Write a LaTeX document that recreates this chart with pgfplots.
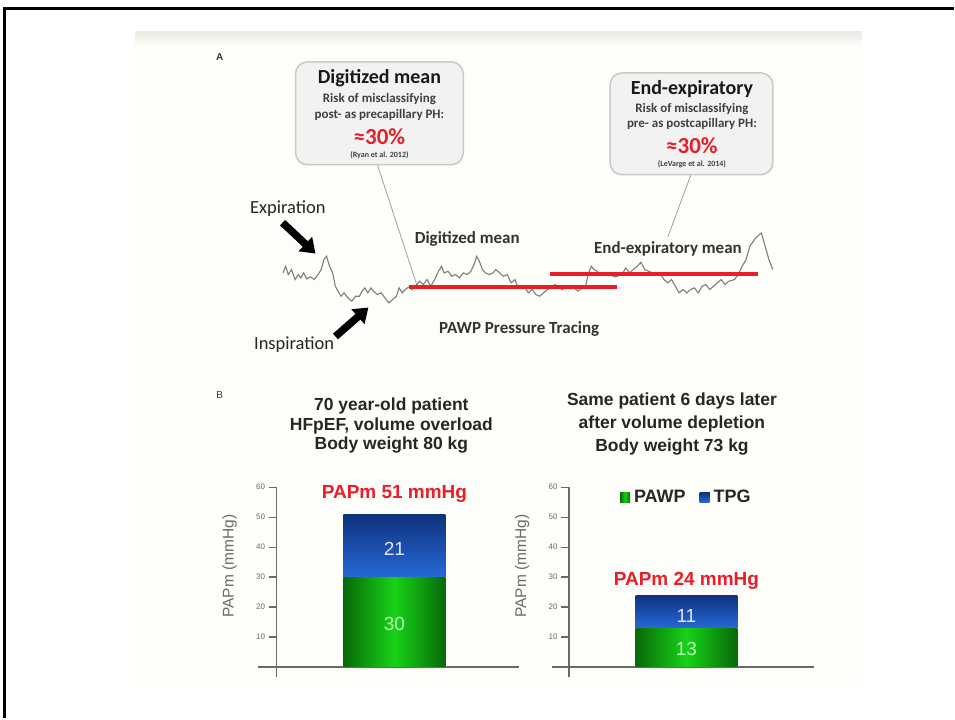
\documentclass[border=0pt]{standalone}
\usepackage{pgfplots}
\pgfplotsset{compat=1.18}
\usepackage{pgfplotstable}
\usepackage{fontspec}
\setmainfont{Carlito}
\newfontfamily\arial{Liberation Sans}
\usetikzlibrary{arrows.meta}
\definecolor{redt}{RGB}{232,30,40}
\definecolor{axgray}{RGB}{105,105,105}
\definecolor{tracec}{RGB}{125,125,125}
\definecolor{boxfill}{RGB}{242,242,242}
\definecolor{boxdraw}{RGB}{200,200,200}
\definecolor{gdark}{RGB}{8,105,8}
\definecolor{gmid}{RGB}{24,210,24}
\definecolor{bdark}{RGB}{14,50,125}
\definecolor{bmid}{RGB}{38,105,215}
\definecolor{panelbg}{RGB}{253,253,250}
\definecolor{bandc}{RGB}{236,236,226}
\newcommand{\fs}[1]{\fontsize{#1}{#1}\selectfont}

% PAWP pressure tracing (horizontal position, depth from top)
\pgfplotstableread{
x y
218 700
225 680
232 705
240 690
250 720
258 705
265 715
272 700
280 718
290 712
300 720
310 705
318 690
325 660
332 650
340 680
348 700
355 740
362 755
370 770
378 760
388 775
398 785
408 770
418 770
425 755
432 745
440 760
448 745
455 755
465 765
475 760
485 775
495 790
505 780
515 770
522 745
530 760
540 748
548 742
555 750
565 740
575 725
585 735
595 720
605 740
615 720
625 695
633 680
640 700
650 695
660 710
670 705
680 715
690 700
700 705
710 695
718 675
725 650
732 665
740 690
748 700
758 705
768 700
775 690
785 700
795 710
805 705
815 730
825 720
832 740
842 745
850 740
860 760
870 750
880 765
890 770
900 760
910 750
920 745
930 735
940 745
950 750
960 742
970 748
980 745
990 755
1000 745
1010 740
1018 700
1025 680
1032 690
1040 695
1048 705
1058 700
1068 700
1078 708
1088 712
1098 708
1108 700
1115 685
1125 700
1135 690
1145 680
1155 668
1165 690
1175 695
1185 700
1195 705
1205 700
1215 720
1225 730
1235 720
1245 740
1255 760
1265 750
1275 760
1285 750
1295 745
1305 760
1315 740
1325 735
1335 750
1345 740
1355 730
1365 720
1375 735
1385 725
1400 720
1412 700
1420 680
1430 660
1440 620
1455 595
1470 580
1480 620
1490 660
1500 690
}\tracedata

\begin{document}
\begin{tikzpicture}
% ---------- base layer in pixel coordinates ----------
\begin{axis}[at={(0pt,0pt)}, anchor=south west, width=955pt, height=719pt,
  scale only axis, xmin=0, xmax=955, ymin=0, ymax=719, y dir=reverse,
  hide axis, clip=false]
\fill[white] (0,0) rectangle (955,719);
\draw[black, line width=3pt] (5,719) -- (5,9) -- (955,9);
\fill[panelbg] (135,32) rectangle (863,688);
\shade[top color=bandc, bottom color=panelbg] (135,32) rectangle (863,46);
% callout boxes
\draw[gray!75, line width=0.8pt] (378,165) -- (418,287);
\draw[gray!75, line width=0.8pt] (692,175) -- (669,237);
\draw[rounded corners=12pt, fill=boxfill, draw=boxdraw, line width=1.5pt] (296,62) rectangle (464,165);
\draw[rounded corners=12pt, fill=boxfill, draw=boxdraw, line width=1.5pt] (611,73) rectangle (774,175);
\node[font=\bfseries\fs{20}, text=black!90] at (380,78) {Digitized mean};
\node[font=\bfseries\fs{13}, text=black!75] at (380,99) {Risk of misclassifying};
\node[font=\bfseries\fs{13}, text=black!75] at (380,115) {post- as precapillary PH:};
\node[font=\bfseries\fs{23}, text=redt] at (380,137) {≈30\%};
\node[font=\bfseries\fs{8}, text=black!75] at (380,155) {(Ryan et al. 2012)};
\node[font=\bfseries\fs{20}, text=black!90] at (693,89) {End-expiratory};
\node[font=\bfseries\fs{13}, text=black!75] at (693,109) {Risk of misclassifying};
\node[font=\bfseries\fs{13}, text=black!75] at (693,124) {pre- as postcapillary PH:};
\node[font=\bfseries\fs{23}, text=redt] at (693,146) {≈30\%};
\node[font=\bfseries\fs{8}, text=black!75] at (693,164) {(LeVarge et al. 2014)};
% labels panel A
\node[font=\arial\bfseries\fs{10}, text=black!80] at (220,57) {A};
\node[anchor=west, font=\fs{18.5}, text=black!85] at (247,209) {Expiration};
\node[anchor=west, font=\fs{18.5}, text=black!85] at (251,345) {Inspiration};
\node[font=\bfseries\fs{17}, text=black!80] at (468,239) {Digitized mean};
\node[font=\bfseries\fs{17}, text=black!80] at (669,249) {End-expiratory mean};
\node[font=\bfseries\fs{17}, text=black!80] at (520,329) {PAWP Pressure Tracing};
\draw[line width=7.5pt, -{Triangle[width=19pt,length=14pt]}] (283,223) -- (316,254);
\draw[line width=7.5pt, -{Triangle[width=19pt,length=14pt]}] (336,337) -- (369,308);
% labels panel B
\node[font=\arial\fs{10}, text=black!80] at (220,396) {B};
\node[font=\arial\bfseries\fs{17.5}, text=black!85] at (392,407) {70 year-old patient};
\node[font=\arial\bfseries\fs{17.5}, text=black!85] at (392,427) {HFpEF, volume overload};
\node[font=\arial\bfseries\fs{17.5}, text=black!85] at (392,446) {Body weight 80 kg};
\node[font=\arial\bfseries\fs{17.5}, text=black!85] at (673,402) {Same patient 6 days later};
\node[font=\arial\bfseries\fs{17.5}, text=black!85] at (673,425) {after volume depletion};
\node[font=\arial\bfseries\fs{17.5}, text=black!85] at (673,448) {Body weight 73 kg};
\node[rotate=90, font=\arial\fs{15.5}, text=axgray] at (230,567) {PAPm (mmHg)};
\node[rotate=90, font=\arial\fs{15.5}, text=axgray] at (523,567) {PAPm (mmHg)};
\end{axis}

% ---------- pressure tracing ----------
\begin{axis}[at={(200pt,369pt)}, anchor=south west, width=600pt, height=310pt,
  scale only axis, xmin=0, xmax=1568, ymin=0, ymax=930, y dir=reverse,
  hide axis, clip=false]
\addplot[tracec, line width=1.1pt, no marks] table[x=x, y=y] {\tracedata};
\addplot[redt, line width=4pt, no marks] coordinates {(548,742) (1092,742)};
\addplot[redt, line width=4pt, no marks] coordinates {(918,703) (1462,703)};
\end{axis}

% ---------- bar charts ----------
\pgfplotsset{barax/.style={
  scale only axis, width=262pt, height=190.5pt,
  ymin=-3.5, ymax=60,
  axis x line=middle, axis y line=middle,
  every inner x axis line/.append style={-},
  every inner y axis line/.append style={-},
  axis line style={draw=axgray, line width=1.6pt, -},
  xtick=\empty, ytick={10,20,30,40,50,60},
  tick align=outside, major tick length=8pt,
  tick style={draw=axgray, line width=1.2pt},
  yticklabel style={font=\arial\fs{8}, text=axgray},
  /pgf/number format/assume math mode=true,
  ybar stacked, bar width=102pt, clip=false},
  overax/.style={scale only axis, width=262pt, height=190.5pt,
  ymin=-3.5, ymax=60, hide axis, clip=false}}
\begin{axis}[barax, at={(258pt,40.5pt)}, anchor=south west, xmin=-19, xmax=243]
\addplot[draw=none, left color=gdark, right color=gdark, middle color=gmid] coordinates {(118,30)};
\addplot[draw=none, top color=bdark, bottom color=bmid] coordinates {(118,21)};
\end{axis}
\begin{axis}[overax, at={(258pt,40.5pt)}, anchor=south west, xmin=-19, xmax=243]
\node[font=\arial\bfseries\fs{19}, text=redt] at (118,57.7) {PAPm 51 mmHg};
\node[font=\arial\fs{19}, text=blue!10!white] at (118,39.3) {21};
\node[font=\arial\fs{19}, text=green!30!white] at (118,14.3) {30};
\end{axis}

\begin{axis}[barax, at={(553pt,40.5pt)}, anchor=south west, xmin=-17, xmax=245,
  legend style={at={(0.513,0.947)}, anchor=center, draw=none, fill=none,
    font=\arial\bfseries\fs{18}, text=black!85, legend columns=2,
    /tikz/every odd column/.append style={column sep=2pt},
    /tikz/every even column/.append style={column sep=12pt}},
  legend image code/.code={\fill[#1] (0pt,-5pt) rectangle (10pt,5pt);}]
\addplot[draw=none, left color=gdark, right color=gdark, middle color=gmid] coordinates {(117.5,13)};
\addplot[draw=none, top color=bdark, bottom color=bmid] coordinates {(117.5,11)};
\legend{PAWP, TPG}
\end{axis}
\begin{axis}[overax, at={(553pt,40.5pt)}, anchor=south west, xmin=-17, xmax=245]
\node[font=\arial\bfseries\fs{19}, text=redt] at (117.5,28.7) {PAPm 24 mmHg};
\node[font=\arial\fs{19}, text=blue!10!white] at (117.5,17) {11};
\node[font=\arial\fs{19}, text=green!30!white] at (117.5,6) {13};
\end{axis}
\end{tikzpicture}
\end{document}
